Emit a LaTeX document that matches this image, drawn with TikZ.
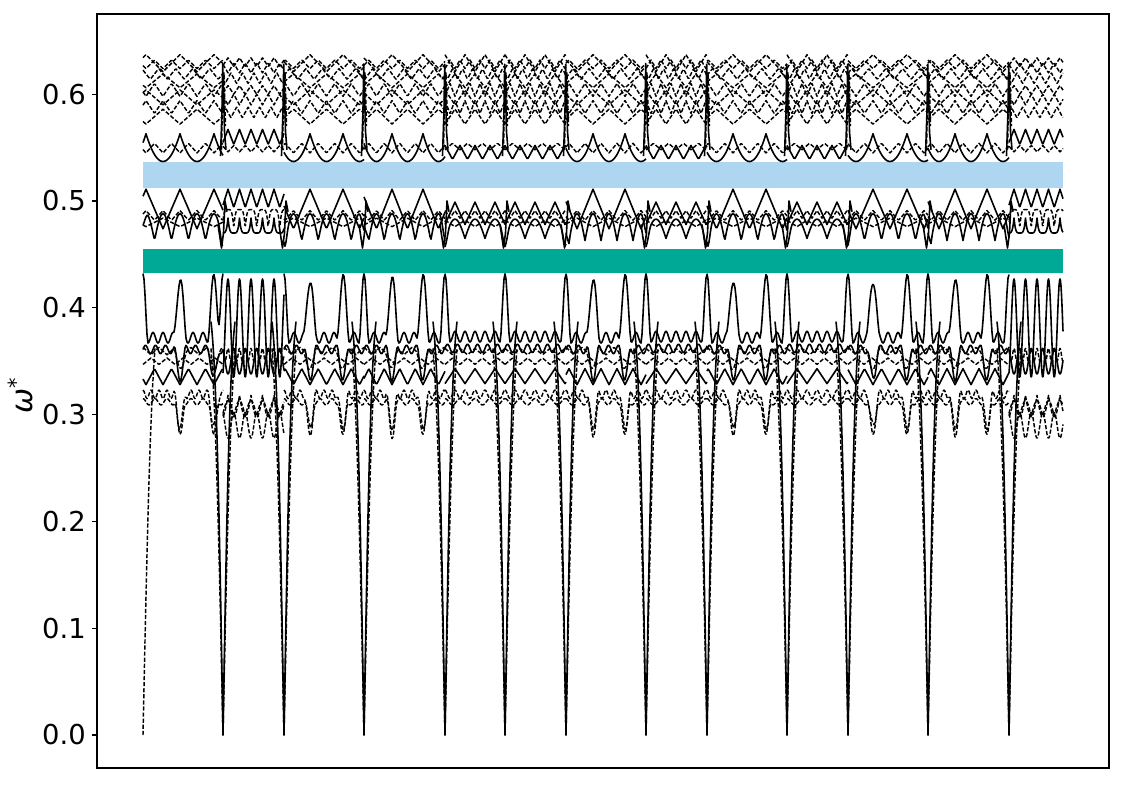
\documentclass[tikz,border=0pt]{standalone}
\usepackage{fontspec}
\setmainfont{DejaVu Sans}
\definecolor{bandblue}{RGB}{174,214,241}
\definecolor{bandteal}{RGB}{0,168,150}
\tikzset{
  sol/.style={black,line width=1.6bp,line join=round},
  dsh/.style={black,line width=1.45bp,line join=round,dash pattern=on 4.2bp off 1.9bp},
  frame/.style={black,line width=1.1bp},
  ticklab/.style={font=\fontsize{27.5}{33}\selectfont,anchor=east,inner sep=0pt},
}
\newcommand\crv[2]{\draw[#1] plot[domain=\a:\b,samples=\nS] (\x,{#2});}
\begin{document}
\begin{tikzpicture}[x=1bp,y=1068bp,
  declare function={
    tri(\uu)=1-2*abs(\uu-round(\uu));
    cl(\dd,\ww)=min(abs(\dd)/\ww,1.1);
    bq(\dd,\ww)=max(0,1-cl(\dd,\ww)*cl(\dd,\ww));
    bm(\dd,\ww)=bq(\dd,\ww)*bq(\dd,\ww);
    qf(\uu)=\uu*\uu*\uu*\uu;
  }]
\useasboundingbox (0,-0.046816) rectangle (1125,0.688202);
\fill[white] (0,-0.046816) rectangle (1125,0.688202);
% gap bands
\fill[bandblue] (143,0.512) rectangle (1063,0.5365);
\fill[bandteal] (143,0.4326) rectangle (1063,0.455);

% long segments
\foreach \a/\b/\p/\q in {143/223/180/214,284/364/310/343,364/445/392/423,566/646/593/625,707/787/733/766,848/928/873/907,928/1009/955/987}{
  \pgfmathtruncatemacro\nS{\b-\a+1}
  \pgfmathsetmacro\T{\q-\p}
  \pgfmathsetmacro\W{360/\T}
  \crv{sol}{0.372+0.005*cos(36*(\x-\a))+0.055*(bm(\x-\p,6.5)+bm(\x-\q,6.5)+bm(\x-\a,5)+bm(\x-\b,5))}
  \crv{sol}{0.361+0.004*sin(36*(\x-\a))-0.026*(bm(\x-\p,6)+bm(\x-\q,6))}
  \crv{dsh}{0.356+0.007*tri((\x-\a)/16)-0.015*(bm(\x-\p,7)+bm(\x-\q,7))}
  \crv{dsh}{0.347+0.006*tri((\x-\a)/16+0.5)}
  \crv{sol}{0.328+0.015*tri(2*(\x-\p)/\T+0.5)}
  \crv{dsh}{0.319+0.004*cos(45*(\x-\a))-0.03*(bm(\x-\p,6)+bm(\x-\q,6))}
  \crv{dsh}{0.312+0.003*cos(30*(\x-\a))-0.033*(bm(\x-\p,5)+bm(\x-\q,5))}
  \crv{sol}{0.474+0.037*tri((\x-\p)/\T)}
  \crv{sol}{0.463+0.025*abs(cos(\W*(\x-\p)))-0.007*(bm(\x-\a,5)+bm(\x-\b,5))}
  \crv{dsh}{0.482+0.009*tri(2*(\x-\p)/\T)}
  \crv{dsh}{0.476+0.008*tri((\x-\p)/\T+0.5)}
  \crv{sol}{0.537+0.026*tri((\x-\p)/\T)*tri((\x-\p)/\T)}
  \crv{dsh}{0.545+0.009*tri(2*(\x-\p)/\T+0.5)}
  \crv{dsh}{0.572+0.014*tri((\x-\p)/\T+0.5)}
  \crv{dsh}{0.582+0.012*tri(2*(\x-\p)/\T)}
  \crv{dsh}{0.590+0.014*tri((\x-\p)/\T)}
  \crv{dsh}{0.598+0.012*tri(2*(\x-\p)/\T+0.5)}
  \crv{dsh}{0.606+0.013*tri((\x-\p)/\T+0.5)}
  \crv{dsh}{0.614+0.010*tri(2*(\x-\p)/\T+0.25)}
  \crv{dsh}{0.621+0.016*tri((\x-\p)/\T)}
  \crv{dsh}{0.624+0.008*tri(2*(\x-\p)/\T+0.5)}
}

% flat segments
\foreach \a/\b in {445/505,505/566,646/707,787/848}{
  \pgfmathtruncatemacro\nS{\b-\a+1}
  \crv{sol}{0.373+0.005*cos(36*(\x-\a))+0.054*(bm(\x-\a,5)+bm(\x-\b,5))}
  \crv{sol}{0.362+0.004*sin(36*(\x-\a))}
  \crv{dsh}{0.356+0.006*tri((\x-\a)/15)}
  \crv{dsh}{0.347+0.006*tri((\x-\a)/15+0.5)}
  \crv{sol}{0.329+0.014*tri((\x-\a)/20+0.5)}
  \crv{dsh}{0.319+0.004*cos(36*(\x-\a))}
  \crv{dsh}{0.312+0.003*cos(24*(\x-\a))}
  \crv{sol}{0.478+0.021*tri((\x-\a-10)/20)}
  \crv{sol}{0.465+0.018*abs(cos(9*(\x-\a-10)))-0.008*(bm(\x-\a,5)+bm(\x-\b,5))}
  \crv{dsh}{0.484+0.007*tri((\x-\a-10)/10)}
  \crv{dsh}{0.476+0.006*tri((\x-\a)/20)}
  \crv{sol}{0.539+0.013*tri((\x-\a)/15)}
  \crv{dsh}{0.548+0.006*tri((\x-\a)/15+0.5)}
  \crv{dsh}{0.572+0.014*tri((\x-\a)/20+0.5)}
  \crv{dsh}{0.582+0.012*tri((\x-\a)/10)}
  \crv{dsh}{0.590+0.014*tri((\x-\a)/20)}
  \crv{dsh}{0.598+0.012*tri((\x-\a)/10+0.5)}
  \crv{dsh}{0.606+0.013*tri((\x-\a)/20+0.5)}
  \crv{dsh}{0.614+0.010*tri((\x-\a)/10+0.25)}
  \crv{dsh}{0.621+0.016*tri((\x-\a)/20)}
  \crv{dsh}{0.624+0.008*tri((\x-\a)/10+0.5)}
}

% dense segments
\foreach \a/\b in {223/284,1009/1063}{
  \pgfmathtruncatemacro\nS{2*(\b-\a)+1}
  \pgfmathsetmacro\p{\a+16.5}
  \crv{sol}{0.381+0.046*cos(31.3043*(\x-\p))}
  \crv{sol}{0.350-0.012*cos(31.3043*(\x-\p))}
  \crv{dsh}{0.356+0.006*cos(62.6087*(\x-\p))}
  \crv{dsh}{0.318-0.020*abs(sin(15.6522*(\x-\p)))}
  \crv{dsh}{0.298+0.015*abs(cos(15.6522*(\x-\p)))}
  \crv{dsh}{0.290-0.012*cos(31.3043*(\x-\p))}
  \crv{sol}{0.494+0.017*tri((\x-\p)/11.5)}
  \crv{dsh}{0.492-0.018*qf(tri((\x-\p)/11.5+0.5))}
  \crv{sol}{0.470+0.014*qf(tri((\x-\p)/11.5))}
  \crv{sol}{0.553+0.014*tri((\x-\p)/11.5)}
  \crv{dsh}{0.546+0.006*tri((\x-\p)/11.5+0.5)}
  \crv{dsh}{0.578+0.010*tri((\x-\p)/11.5+0.25)}
  \crv{dsh}{0.590+0.010*tri((\x-\p)/11.5+0.5)}
  \crv{dsh}{0.600+0.008*tri((\x-\p)/11.5)}
  \crv{dsh}{0.610+0.010*tri((\x-\p)/11.5+0.75)}
  \crv{dsh}{0.620+0.009*tri((\x-\p)/11.5+0.5)}
  \crv{dsh}{0.626+0.008*tri((\x-\p)/11.5)}
}

% crossings at the zone points
\foreach \d in {223,284,364,445,505,566,646,707,787,848,928,1009}{
  \draw[sol] (\d-2.5,0.542) -- (\d-1,0.585) -- (\d-0.3,0.628) -- (\d+0.6,0.60) -- (\d+1.5,0.565) -- (\d+3,0.548);
  \draw[dsh] (\d-1.5,0.548) -- (\d,0.61) -- (\d+1,0.62) -- (\d+2.5,0.57);
  \draw[sol] (\d-5,0.478) -- (\d-1.5,0.456) -- (\d+0.5,0.47) -- (\d+2,0.50) -- (\d+4,0.49);
  \draw[sol] plot[domain=-12:12,samples=49] ({\d+\x},{0.42*tanh(abs(\x)/7.5)});
  \draw[dsh] plot[domain=-12:12,samples=49] ({\d+\x},{0.425*tanh(abs(\x)/9.5)});
}
\draw[dsh] plot[domain=0:12,samples=25] ({143+\x},{0.425*tanh(\x/9.5)});

% frame, ticks, labels
\draw[frame] (97,-0.0309) rectangle (1109,0.6751);
\foreach \v [count=\i] in {0.0,0.1,0.2,0.3,0.4,0.5,0.6}{
  \draw[frame] (97,\v) -- (92,\v);
  \node[ticklab] (tl\i) at (86,\v) {\v};
}
\node[rotate=90,anchor=south,inner sep=0pt,font=\fontsize{30}{35}\selectfont] (ylab) at (33.5,0.318) {{\itshape ω}\textsuperscript{*}};
\end{tikzpicture}
\end{document}
